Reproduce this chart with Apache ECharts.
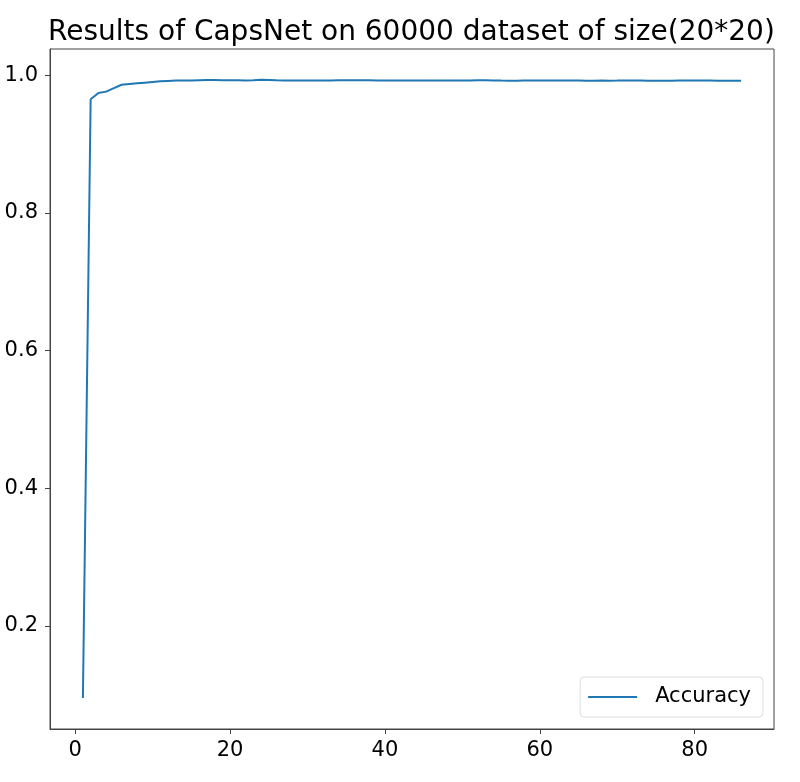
<!DOCTYPE html>
<html>
<head>
<meta charset="utf-8">
<script src="https://cdn.jsdelivr.net/npm/echarts@6/dist/echarts.min.js"></script>
<style>
  html, body { margin: 0; padding: 0; background: #fff; }
  #chart { width: 800px; height: 782px; }
</style>
</head>
<body>
<div id="chart"></div>
<script>
var epochs = [];
for (var e = 1; e <= 86; e++) epochs.push(e);

var accuracy = [
  0.095, 0.965, 0.974, 0.976, 0.981, 0.986, 0.987, 0.988, 0.989, 0.990,
  0.991, 0.9915, 0.992, 0.992, 0.992, 0.9925, 0.993, 0.993, 0.9925, 0.9925,
  0.9925, 0.9922, 0.9925, 0.9932, 0.9928, 0.9924, 0.9922, 0.9921, 0.992, 0.992,
  0.992, 0.9921, 0.9922, 0.9925, 0.9926, 0.9926, 0.9925, 0.9924, 0.9922, 0.9921,
  0.9921, 0.9921, 0.9922, 0.9921, 0.9923, 0.9923, 0.9922, 0.9921, 0.992, 0.9921,
  0.992, 0.9926, 0.9924, 0.9922, 0.992, 0.9919, 0.9919, 0.992, 0.992, 0.9921,
  0.9921, 0.992, 0.9921, 0.992, 0.9921, 0.9919, 0.9918, 0.992, 0.9919, 0.992,
  0.9922, 0.9923, 0.9922, 0.9919, 0.9918, 0.9919, 0.9918, 0.992, 0.992, 0.9921,
  0.9922, 0.992, 0.9918, 0.9918, 0.9919, 0.9919
];

var xTicks = [0, 20, 40, 60, 80];
var yTicks = [0.2, 0.4, 0.6, 0.8, 1.0];

var chart = echarts.init(document.getElementById('chart'));

var points = [];
for (var i = 0; i < epochs.length; i++) {
  points.push([epochs[i], accuracy[i]]);
}

var font = 'DejaVu Sans';

var option = {
  animation: false,
  backgroundColor: '#fff',
  title: {
    text: 'Results of CapsNet on 60000 dataset of size(20*20)',
    left: 43,
    top: 14,
    textStyle: {
      fontFamily: font,
      fontSize: 28,
      fontWeight: 'normal',
      color: '#000'
    }
  },
  grid: {
    left: 50,
    right: 26,
    top: 49,
    bottom: 53,
    show: true,
    borderColor: '#444',
    borderWidth: 1
  },
  legend: {
    data: [{ name: 'Accuracy', icon: 'rect' }],
    right: 37,
    bottom: 65,
    orient: 'vertical',
    itemWidth: 49,
    itemHeight: 2,
    itemGap: 0,
    padding: [9, 12, 9, 8],
    borderColor: '#ddd',
    borderWidth: 1,
    borderRadius: 4,
    backgroundColor: '#fff',
    textStyle: {
      fontFamily: font,
      fontSize: 21,
      color: '#000',
      lineHeight: 22,
      padding: [0, 0, 0, 13]
    }
  },
  xAxis: {
    type: 'value',
    min: -3.25,
    max: 90.25,
    axisLine: { show: true, onZero: false, lineStyle: { color: '#444', width: 1 } },
    axisTick: {
      show: true,
      customValues: xTicks,
      length: 5,
      lineStyle: { color: '#444' }
    },
    axisLabel: {
      customValues: xTicks,
      fontFamily: font,
      fontSize: 21,
      color: '#000',
      margin: 11
    },
    splitLine: { show: false }
  },
  yAxis: {
    type: 'value',
    min: 0.0501,
    max: 1.0379,
    axisLine: { show: true, onZero: false, lineStyle: { color: '#444', width: 1 } },
    axisTick: {
      show: true,
      customValues: yTicks,
      length: 5,
      lineStyle: { color: '#444' }
    },
    axisLabel: {
      customValues: yTicks,
      fontFamily: font,
      fontSize: 21,
      color: '#000',
      margin: 12,
      formatter: function (v) { return v.toFixed(1); }
    },
    splitLine: { show: false }
  },
  series: [
    {
      name: 'Accuracy',
      type: 'line',
      data: points,
      symbol: 'none',
      showSymbol: false,
      lineStyle: { color: '#1f77b4', width: 2 },
      itemStyle: { color: '#1f77b4' }
    }
  ]
};

chart.setOption(option);
</script>
</body>
</html>
